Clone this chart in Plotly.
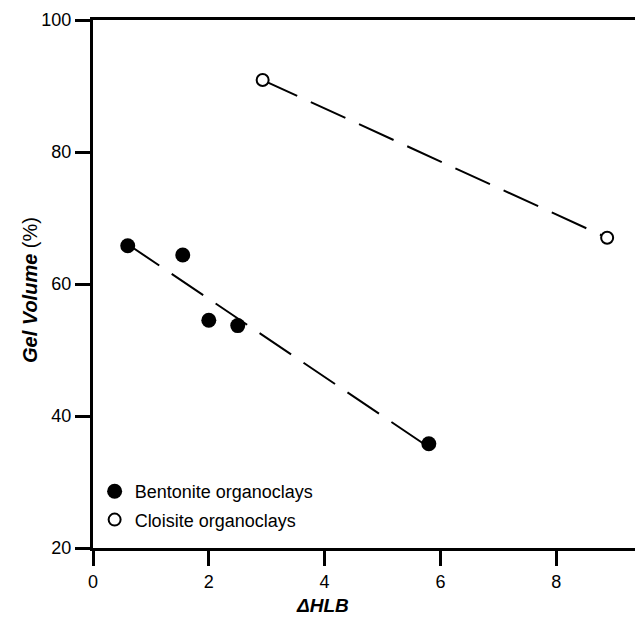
import numpy as np
import plotly.graph_objects as go

# Data
bent_x = [0.60, 1.55, 2.00, 2.50, 5.80]
bent_y = [65.8, 64.4, 54.5, 53.7, 35.8]
clois_x = [2.93, 8.88]
clois_y = [90.9, 67.0]
x_ticks = [0, 2, 4, 6, 8]
y_ticks = [20, 40, 60, 80, 100]

FONT = "Liberation Sans, Arial, sans-serif"

# Linear trend lines
bp = np.polyfit(bent_x, bent_y, 1)
bfx = np.array([min(bent_x), max(bent_x)])
bfy = np.polyval(bp, bfx)
cp = np.polyfit(clois_x, clois_y, 1)
cfx = np.array([min(clois_x), max(clois_x)])
cfy = np.polyval(cp, cfx)

fig = go.Figure()
fig.add_trace(go.Scatter(x=bfx, y=bfy, mode="lines", showlegend=False,
                         line=dict(color="black", width=2, dash="38px,15px")))
fig.add_trace(go.Scatter(x=cfx, y=cfy, mode="lines", showlegend=False,
                         line=dict(color="black", width=2, dash="38px,15px")))
fig.add_trace(go.Scatter(x=bent_x, y=bent_y, mode="markers", name="Bentonite organoclays",
                         legendgroup="a",
                         marker=dict(symbol="circle", size=15, color="black",
                                     line=dict(color="black", width=0))))
fig.add_trace(go.Scatter(x=clois_x, y=clois_y, mode="markers", name="Cloisite organoclays",
                         legendgroup="b",
                         marker=dict(symbol="circle", size=12, color="white",
                                     line=dict(color="black", width=2))))

W, H = 635, 617
L, T, B = 93, 20, 69
plot_w = W - L
plot_h = H - T - B
x_max = plot_w / 57.9

fig.update_layout(
    width=W, height=H,
    margin=dict(l=L, r=0, t=T, b=B),
    plot_bgcolor="white", paper_bgcolor="white",
    font=dict(family=FONT, size=18, color="black"),
    showlegend=True,
    legend=dict(x=0.003, y=0.142, xanchor="left", yanchor="top",
                font=dict(family=FONT, size=18, color="black"),
                bgcolor="rgba(0,0,0,0)", traceorder="grouped", tracegroupgap=2),
    xaxis=dict(range=[0, x_max], tickvals=x_ticks, ticks="outside", ticklen=15,
               tickwidth=3, tickcolor="black", showline=True, linewidth=3,
               linecolor="black", mirror=True, showgrid=False, zeroline=False,
               tickfont=dict(family=FONT, size=18)),
    yaxis=dict(range=[20, 100], tickvals=y_ticks, ticks="outside", ticklen=15,
               tickwidth=3, tickcolor="black", showline=True, linewidth=3,
               linecolor="black", showgrid=False, zeroline=False,
               tickfont=dict(family=FONT, size=18)),
    annotations=[
        dict(text="<b><i>ΔHLB</i></b>", xref="paper", yref="paper",
             x=(322 - L) / plot_w, y=(H - B - 605) / plot_h,
             xanchor="center", yanchor="middle", showarrow=False,
             font=dict(family=FONT, size=19)),
        dict(text="<b><i>Gel Volume</i></b> (%)", xref="paper", yref="paper",
             x=(30 - L) / plot_w, y=(H - B - 290) / plot_h, textangle=-90,
             xanchor="center", yanchor="middle", showarrow=False,
             font=dict(family=FONT, size=20)),
    ],
)

fig.write_html("out.html")
